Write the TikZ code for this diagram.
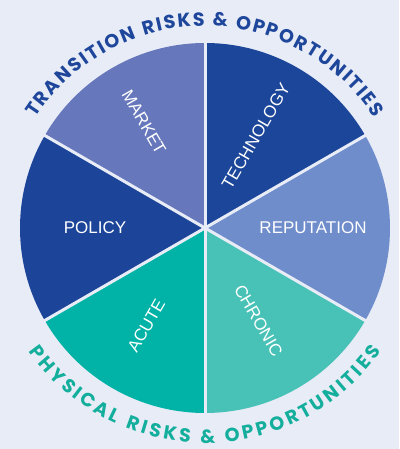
\documentclass[tikz,border=0pt]{standalone}
\usepackage{fontspec}
\setmainfont{Liberation Sans}
\newfontfamily\poppfont{Poppins}
\usetikzlibrary{decorations.text,calc}
\definecolor{bg}{HTML}{E8ECF7}
\definecolor{cTech}{HTML}{1C4699}
\definecolor{cMarket}{HTML}{6677BB}
\definecolor{cPolicy}{HTML}{1C4599}
\definecolor{cRep}{HTML}{6F8CCB}
\definecolor{cAcute}{HTML}{00B3A6}
\definecolor{cChronic}{HTML}{48C2B6}
\definecolor{cTop}{HTML}{1E479B}
\definecolor{cBot}{HTML}{13AE9C}
\newcommand{\arcfont}{\poppfont\fontsize{19}{19}\selectfont\bfseries}
\tikzset{
  sector/.style={draw=none},
  sep/.style={draw=bg, line width=3pt},
  lbl/.style={text=white, font=\fontsize{17}{17}\selectfont, inner sep=0pt}
}
\begin{document}
\begin{tikzpicture}[x=1pt,y=1pt]
\fill[bg] (0,0) rectangle (399,449);
\useasboundingbox (0,0) rectangle (399,449);
\coordinate (C) at (205,221);
\def\R{185}
\fill[cTech]    (C) -- ++(30:\R)  arc[start angle=30,  end angle=90,  radius=\R] -- cycle;
\fill[cMarket]  (C) -- ++(90:\R)  arc[start angle=90,  end angle=150, radius=\R] -- cycle;
\fill[cPolicy]  (C) -- ++(150:\R) arc[start angle=150, end angle=210, radius=\R] -- cycle;
\fill[cAcute]   (C) -- ++(210:\R) arc[start angle=210, end angle=270, radius=\R] -- cycle;
\fill[cChronic] (C) -- ++(270:\R) arc[start angle=270, end angle=330, radius=\R] -- cycle;
\fill[cRep]     (C) -- ++(330:\R) arc[start angle=330, end angle=390, radius=\R] -- cycle;
\foreach \a in {30,90,150,210,270,330}{
  \draw[sep] (C) -- ++(\a:\R+2);
}
\node[lbl, rotate=-60] (market) at ($(C)+(120:122)$) {MARKET};
\node[lbl, rotate=60]  (tech)   at ($(C)+(61:105)$) {TECHNOLOGY};
\node[lbl]             (rep)    at ($(C)+(0:108)$) {REPUTATION};
\node[lbl]             (policy) at ($(C)+(180:110)$) {POLICY};
\node[lbl, rotate=60]  (acute)  at ($(C)+(239:114)$) {ACUTE};
\node[lbl, rotate=-60] (chronic) at ($(C)+(300:107)$) {CHRONIC};
\path[font=\arcfont, decorate, decoration={text along path,
   text={|\arcfont\color{cTop}|TRANSITION RISKS {\&} OPPORTUNITIES},
   text align={fit to path}}]
   ($(C)+(147:202)$) arc[start angle=147, end angle=33, radius=202];
\path[font=\arcfont, decorate, decoration={text along path,
   text={|\arcfont\color{cBot}|PHYSICAL RISKS {\&} OPPORTUNITIES},
   text align={fit to path}}]
   ($(C)+(215:215)$) arc[start angle=215, end angle=325, radius=215];
\end{tikzpicture}
\end{document}
